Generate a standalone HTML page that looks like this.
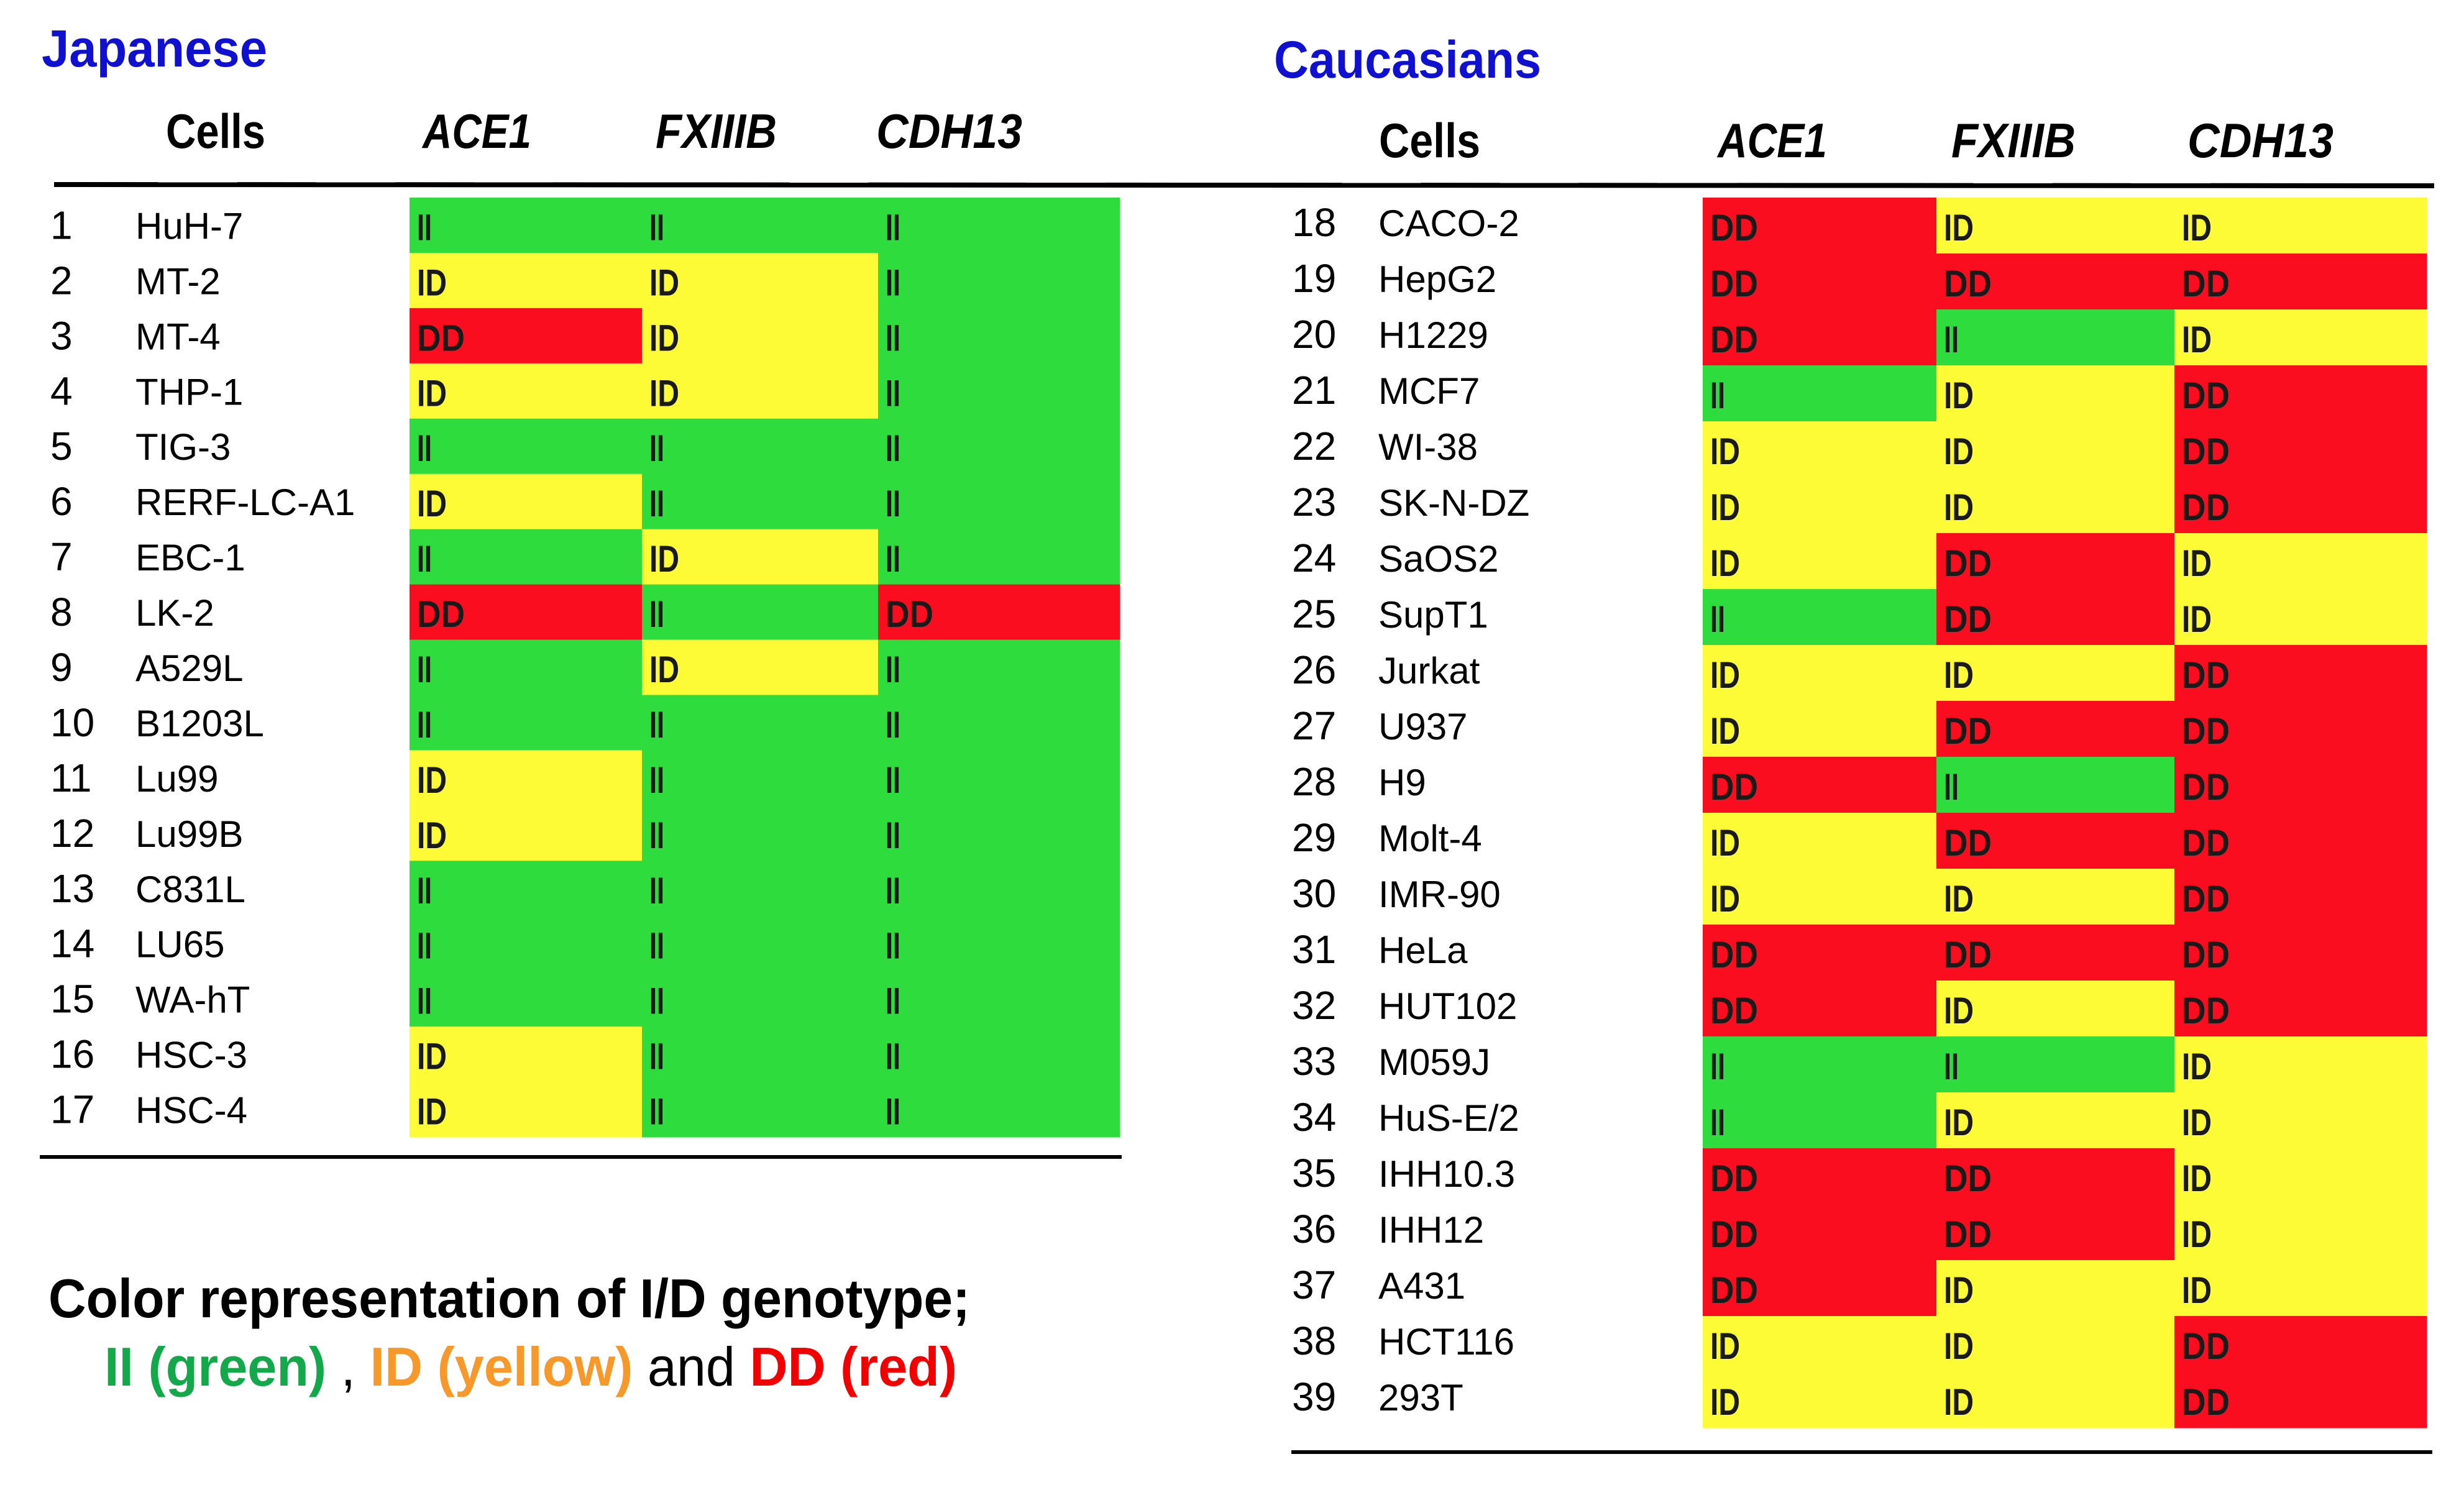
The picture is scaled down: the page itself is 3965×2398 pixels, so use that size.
<!DOCTYPE html>
<html><head><meta charset="utf-8"><style>
html,body{margin:0;padding:0;background:#fff;}
svg{display:block;font-family:"Liberation Sans",sans-serif;}
</style></head><body>
<svg id="chart" width="3965" height="2398" viewBox="0 0 3965 2398" xmlns="http://www.w3.org/2000/svg">
<rect width="3965" height="2398" fill="#fff"/>
<text x="67" y="107" font-size="84" font-weight="bold" fill="#1010d0" textLength="363" lengthAdjust="spacingAndGlyphs">Japanese</text>
<text x="2050" y="125" font-size="84" font-weight="bold" fill="#1010d0" textLength="430" lengthAdjust="spacingAndGlyphs">Caucasians</text>
<g font-size="78" font-weight="bold" fill="#000">
<text x="267" y="238" textLength="160" lengthAdjust="spacingAndGlyphs">Cells</text>
<text x="680" y="238" font-style="italic" textLength="175" lengthAdjust="spacingAndGlyphs">ACE1</text>
<text x="1055" y="238" font-style="italic" textLength="195" lengthAdjust="spacingAndGlyphs">FXIIIB</text>
<text x="1410" y="238" font-style="italic" textLength="235" lengthAdjust="spacingAndGlyphs">CDH13</text>
<text x="2219" y="253" textLength="163" lengthAdjust="spacingAndGlyphs">Cells</text>
<text x="2764" y="253" font-style="italic" textLength="176" lengthAdjust="spacingAndGlyphs">ACE1</text>
<text x="3140" y="253" font-style="italic" textLength="200" lengthAdjust="spacingAndGlyphs">FXIIIB</text>
<text x="3520" y="253" font-style="italic" textLength="235" lengthAdjust="spacingAndGlyphs">CDH13</text>
</g>
<line x1="87" y1="297" x2="3917" y2="299" stroke="#000" stroke-width="8"/>
<line x1="64" y1="1862" x2="1805" y2="1862" stroke="#000" stroke-width="6"/>
<line x1="2078" y1="2337" x2="3914" y2="2337" stroke="#000" stroke-width="6"/>
<g id="cells"></g>
<text x="78" y="2120" font-size="88" font-weight="bold" fill="#000" textLength="1483" lengthAdjust="spacingAndGlyphs">Color representation of I/D genotype;</text>
<text x="168" y="2230" font-size="88" textLength="1372" lengthAdjust="spacingAndGlyphs"><tspan font-weight="bold" fill="#13a84a">II (green)</tspan><tspan fill="#000"> , </tspan><tspan font-weight="bold" fill="#f7982a">ID (yellow)</tspan><tspan fill="#000"> and </tspan><tspan font-weight="bold" fill="#f00000">DD (red)</tspan></text>
</svg>
<script>
const leftNames = ["HuH-7","MT-2","MT-4","THP-1","TIG-3","RERF-LC-A1","EBC-1","LK-2","A529L","B1203L","Lu99","Lu99B","C831L","LU65","WA-hT","HSC-3","HSC-4"];
const leftACE1 = ["II","ID","DD","ID","II","ID","II","DD","II","II","ID","ID","II","II","II","ID","ID"];
const leftFXIIIB = ["II","ID","ID","ID","II","II","ID","II","ID","II","II","II","II","II","II","II","II"];
const leftCDH13 = ["II","II","II","II","II","II","II","DD","II","II","II","II","II","II","II","II","II"];
const rightNames = ["CACO-2","HepG2","H1229","MCF7","WI-38","SK-N-DZ","SaOS2","SupT1","Jurkat","U937","H9","Molt-4","IMR-90","HeLa","HUT102","M059J","HuS-E/2","IHH10.3","IHH12","A431","HCT116","293T"];
const rightACE1 = ["DD","DD","DD","II","ID","ID","ID","II","ID","ID","DD","ID","ID","DD","DD","II","II","DD","DD","DD","ID","ID"];
const rightFXIIIB = ["ID","DD","II","ID","ID","ID","DD","DD","ID","DD","II","DD","ID","DD","ID","II","ID","DD","DD","ID","ID","ID"];
const rightCDH13 = ["ID","DD","ID","DD","DD","DD","ID","ID","DD","DD","DD","DD","DD","DD","DD","ID","ID","ID","ID","ID","DD","DD"];

const NS = "http://www.w3.org/2000/svg";
const colors = {II:"#2edc3d", ID:"#fdfa36", DD:"#f90d1e"};
const labelW = {II:24, ID:48, DD:77};
const g = document.getElementById("cells");
function mk(tag, attrs){const e=document.createElementNS(NS,tag);for(const k in attrs)e.setAttribute(k,attrs[k]);g.appendChild(e);return e;}

function drawTable(names, cols, startNum, top, rowH, colX, numX, nameX, side, textOff){
  const geneNames=["ace1","fxiiib","cdh13"];
  names.forEach((nm,i)=>{
    const y0 = top + i*rowH, cy = y0 + rowH/2;
    cols.forEach((arr,c)=>{
      const r = mk("rect",{x:colX[c],y:y0,width:colX[c+1]-colX[c]+0.5,height:rowH+0.5,fill:colors[arr[i]]});
      
      
    });
    cols.forEach((arr,c)=>{
      const t = mk("text",{x:colX[c]+12,y:cy+24,"font-size":60,"font-weight":"600",fill:"#1a1a1a",textLength:labelW[arr[i]],lengthAdjust:"spacingAndGlyphs"});
      t.textContent = arr[i];
      
      
    });
    const n = mk("text",{x:numX,y:cy+textOff,"font-size":64,fill:"#000"});
    n.textContent = String(startNum+i);
    
    
    const l = mk("text",{x:nameX,y:cy+textOff,"font-size":60,fill:"#000"});
    l.textContent = nm;
    
    
  });
}
drawTable(leftNames,[leftACE1,leftFXIIIB,leftCDH13],1,318,(1830-318)/17,[659,1033,1413,1802],81,218,"japanese",22);
drawTable(rightNames,[rightACE1,rightFXIIIB,rightCDH13],18,318,(2298-318)/22,[2740,3116,3499,3905],2079,2218,"caucasian",17);
</script>
</body></html>
